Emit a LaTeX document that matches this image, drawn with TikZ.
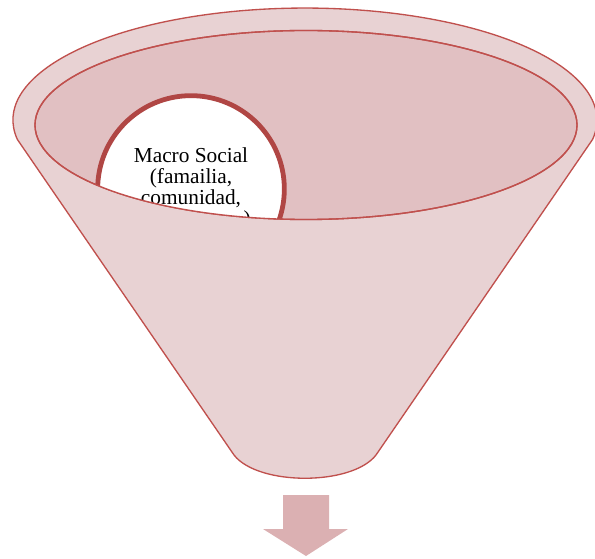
\documentclass[tikz,border=0pt]{standalone}
\usepackage{fontspec}
\setmainfont{Liberation Serif}
\usepackage{tikz}
\usetikzlibrary{shapes}
\definecolor{funnelline}{HTML}{C0504D}
\definecolor{funnelbody}{HTML}{E8D2D3}
\definecolor{funneltop}{HTML}{E1C0C2}
\definecolor{ringline}{HTML}{B04644}
\definecolor{arrowfill}{HTML}{DBB0B2}

\begin{document}
\begin{tikzpicture}[x=0.75pt, y=0.75pt]
        \tikzstyle{body} = [draw=funnelline, fill=funnelbody, line width=1pt, line join=round]
        \tikzstyle{mouth} = [draw=funnelline, fill=funneltop, line width=1pt]
        \tikzstyle{ring} = [circle, draw=ringline, fill=white, line width=3.6pt, minimum size=140pt, inner sep=0pt, align=center, font=\fontsize{16pt}{15.75pt}\selectfont]
        \tikzstyle{down} = [fill=arrowfill, draw=none]

        \useasboundingbox (0,0) rectangle (595,-559);

        \coordinate (center) at (305,-120);
        \coordinate (mouth_center) at (306,-125);
        \coordinate (left_rim) at (17.4,-139.5);
        \coordinate (left_tip) at (234,-455);
        \coordinate (right_tip) at (376,-455);

        \path [body] (left_rim) arc [start angle=190, end angle=-10, x radius=292, y radius=112]
            -- (right_tip) .. controls (352,-486) and (258,-486) .. (left_tip) -- cycle;
        \path [mouth] (mouth_center) ellipse [x radius=271, y radius=94.5];

        \begin{scope}
            \clip (mouth_center) ellipse [x radius=271, y radius=94.5];
            \node [ring] (macro_social) at (191,-189) {Macro Social\\(famailia,\\comunidad,\\\hphantom{comunidades})};
        \end{scope}
        \draw [funnelline, line width=1pt] (mouth_center) ellipse [x radius=271, y radius=94.5];

        \path [down] (283,-495) -- (329,-495) -- (329,-529) -- (348,-529) -- (306,-556) -- (263,-529) -- (283,-529) -- cycle;

    \end{tikzpicture}
\end{document}
